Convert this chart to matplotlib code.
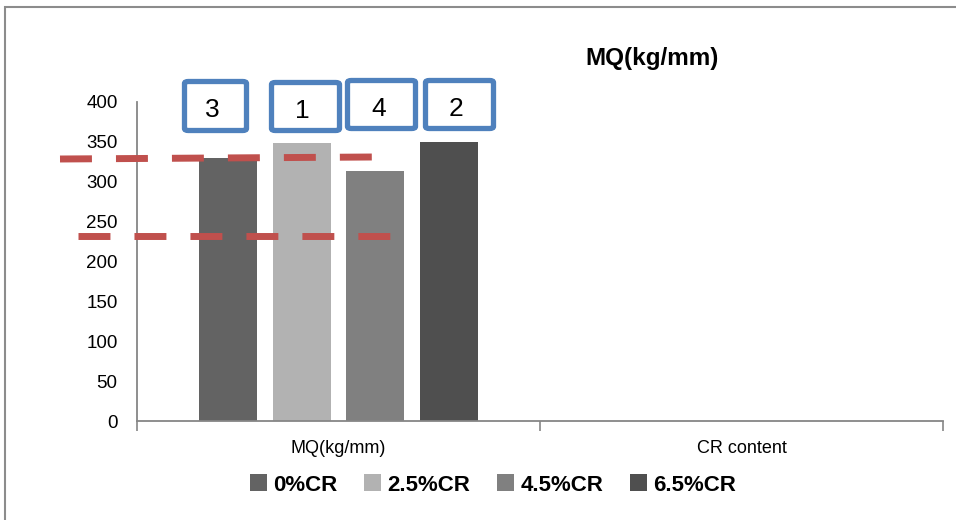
import numpy as np
import matplotlib
matplotlib.use("Agg")
import matplotlib.pyplot as plt
from matplotlib.patches import FancyBboxPatch, Rectangle
from matplotlib.lines import Line2D
from matplotlib.ticker import FixedLocator

plt.rcParams['font.family'] = ['Liberation Sans Narrow', 'Liberation Sans', 'DejaVu Sans']
plt.rcParams['lines.scale_dashes'] = False

# data
categories = ['MQ(kg/mm)', 'CR content']
series = ['0%CR', '2.5%CR', '4.5%CR', '6.5%CR']
values = [[330, 0], [349, 0], [313, 0], [350, 0]]   # second group is empty
colors = ['#636363', '#b2b2b2', '#808080', '#4f4f4f']
ranks = ['3', '1', '4', '2']

W, H = 956, 520
fig = plt.figure(figsize=(W / 100, H / 100), dpi=100)

def fx(x):
    return x / W

def fy(y):
    return 1 - y / H

ax = fig.add_axes([fx(137), fy(421), fx(943) - fx(137), fy(102) - fy(421)])

step = 0.182
width = 0.144
x = np.arange(len(categories))
for i, (name, vals) in enumerate(zip(series, values)):
    shown = [v if v > 0 else np.nan for v in vals]
    ax.bar(x + (i - 1.5) * step, shown, width, color=colors[i], label=name)

ax.set_xlim(-0.5, len(categories) - 0.5)
ax.set_ylim(0, 400)
ax.set_yticks(np.arange(0, 401, 50))
ax.set_xticks(x)
ax.set_xticklabels(categories, fontsize=13)
ax.xaxis.set_minor_locator(FixedLocator([-0.5, 0.5, 1.5]))
ax.tick_params(axis='x', which='major', length=0, pad=14)
ax.tick_params(axis='x', which='minor', length=7, width=1.2, color='#868686')
ax.tick_params(axis='y', length=0, labelsize=13.5, pad=14)
for s in ['top', 'right']:
    ax.spines[s].set_visible(False)
for s in ['left', 'bottom']:
    ax.spines[s].set_color('#868686')
    ax.spines[s].set_linewidth(1.3)

fig.text(fx(652), fy(58), 'MQ(kg/mm)', ha='center', va='center',
         fontsize=17.5, fontweight='bold', family=['Liberation Sans', 'DejaVu Sans'])

leg = fig.legend(loc='center', bbox_to_anchor=(fx(493), fy(485)), ncol=4,
                 frameon=False, handlelength=0.75, handleheight=0.8,
                 handletextpad=0.3, columnspacing=1.2,
                 prop={'size': 16, 'weight': 'bold'})

# outer frame of the chart area (bottom and right run off the picture)
fig.patches.append(Rectangle((fx(5), fy(540)), fx(980) - fx(5), fy(7) - fy(540),
                             transform=fig.transFigure, fill=False,
                             edgecolor='#8c8c8c', linewidth=1.5))

# blue rank boxes
boxes = [(182, 79, 249, 133), (269, 80, 342, 133), (345, 78, 418, 131), (423, 78, 496, 131)]
for (x0, y0, x1, y1), r in zip(boxes, ranks):
    fig.patches.append(FancyBboxPatch((fx(x0 + 2.5), fy(y1 - 2.5)),
                                      fx(x1 - x0 - 5), fy(y0) - fy(y1 - 5),
                                      boxstyle='round,pad=0,rounding_size=0.004',
                                      transform=fig.transFigure, facecolor='white',
                                      edgecolor='#4f81bd', linewidth=3.8))
    fig.text(fx((x0 + x1) / 2 - 3), fy((y0 + y1) / 2 + 4), r, ha='center', va='center',
             fontsize=19)

# red dashed guide lines
for (x0, y0, x1, y1) in [(60, 159, 373, 157), (78, 236, 390, 236)]:
    fig.lines.append(Line2D([fx(x0), fx(x1)], [fy(y0), fy(y1)], transform=fig.transFigure,
                            color='#c0504d', linewidth=5, solid_capstyle='butt',
                            dash_capstyle='butt', linestyle=(0, (23, 17.3))))

fig.savefig('out.png', dpi=100)
